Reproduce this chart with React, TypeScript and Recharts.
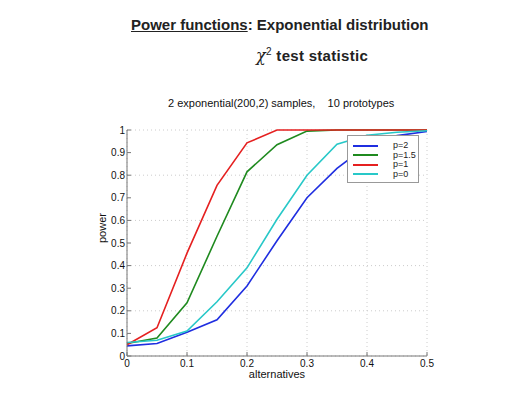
import React from "react";
import { LineChart, Line, XAxis, YAxis, CartesianGrid } from "recharts";

const alternatives = [0, 0.05, 0.1, 0.15, 0.2, 0.25, 0.3, 0.35, 0.4, 0.45, 0.5];
const p2 = [0.045, 0.055, 0.105, 0.16, 0.31, 0.51, 0.70, 0.83, 0.93, 0.975, 0.993];
const p15 = [0.055, 0.08, 0.235, 0.53, 0.815, 0.935, 0.995, 1.0, 1.0, 1.0, 1.0];
const p1 = [0.05, 0.125, 0.455, 0.755, 0.943, 1.0, 1.0, 1.0, 1.0, 1.0, 1.0];
const p0 = [0.06, 0.07, 0.11, 0.24, 0.39, 0.605, 0.80, 0.937, 0.977, 0.99, 0.997];
const xTicks = [0, 0.1, 0.2, 0.3, 0.4, 0.5];
const yTicks = [0, 0.1, 0.2, 0.3, 0.4, 0.5, 0.6, 0.7, 0.8, 0.9, 1];

const series = [
  { key: "p2", name: "p=2", color: "#1f2ee0" },
  { key: "p15", name: "p=1.5", color: "#1f8a1f" },
  { key: "p1", name: "p=1", color: "#e52020" },
  { key: "p0", name: "p=0", color: "#28c8c8" },
];

const data = alternatives.map((a, i) => ({ a, p2: p2[i], p15: p15[i], p1: p1[i], p0: p0[i] }));

const font = "'Liberation Sans', Arial, sans-serif";
const blank = () => "";

export default function App() {
  return (
    <div style={{ position: "absolute", left: 0, top: 0, width: 517, height: 400, background: "#fff" }}>
      <div
        style={{
          position: "absolute",
          left: 131,
          top: 16,
          fontFamily: font,
          fontSize: 15,
          fontWeight: 600,
          color: "#222",
          whiteSpace: "nowrap",
        }}
      >
        <span style={{ textDecoration: "underline" }}>Power functions</span>: Exponential distribution
      </div>
      <div
        style={{
          position: "absolute",
          left: 256,
          top: 46,
          fontFamily: font,
          fontSize: 15,
          fontWeight: 600,
          color: "#222",
          whiteSpace: "nowrap",
          letterSpacing: 0.3,
        }}
      >
        <span style={{ fontFamily: "'DejaVu Serif', serif", fontStyle: "italic", fontWeight: 400, fontSize: 16 }}>χ</span>
        <sup style={{ fontWeight: 400, fontSize: 10 }}>2</sup> test statistic
      </div>
      <div
        style={{
          position: "absolute",
          left: 168,
          top: 97,
          fontFamily: font,
          fontSize: 11,
          color: "#111",
          whiteSpace: "pre",
        }}
      >
        {"2 exponential(200,2) samples,    10 prototypes"}
      </div>
      <LineChart
        width={517}
        height={400}
        data={data}
        margin={{ top: 130, right: 90, left: 96, bottom: 22 }}
        style={{ fontFamily: font, position: "absolute", left: 0, top: 0 }}
      >
        <CartesianGrid stroke="#ccc" strokeDasharray="1 3" />
        <XAxis
          dataKey="a"
          type="number"
          domain={[0, 0.5]}
          ticks={xTicks}
          tick={{ fontSize: 10, fill: "#111" }}
          tickSize={-4}
          tickMargin={8}
          stroke="#777"
          height={22}
          label={{ value: "alternatives", position: "insideBottom", offset: 0, fontSize: 11, fill: "#111" }}
        />
        <XAxis xAxisId="top" orientation="top" dataKey="a" type="number" domain={[0, 0.5]} ticks={xTicks} tickFormatter={blank} tickSize={-4} stroke="#777" height={0} />
        <YAxis
          type="number"
          domain={[0, 1]}
          ticks={yTicks}
          tick={{ fontSize: 10, fill: "#111" }}
          tickSize={-4}
          tickMargin={6}
          stroke="#777"
          width={31}
          label={{ value: "power", angle: -90, position: "insideLeft", offset: 6, fontSize: 11, fill: "#111" }}
        />
        <YAxis yAxisId="right" orientation="right" type="number" domain={[0, 1]} ticks={yTicks} tickFormatter={blank} tickSize={-4} stroke="#777" width={0} />
        {series.map((s) => (
          <Line key={s.key} dataKey={s.key} name={s.name} stroke={s.color} strokeWidth={1.6} dot={false} isAnimationActive={false} />
        ))}
      </LineChart>
      <div
        style={{
          position: "absolute",
          left: 347,
          top: 135,
          width: 72,
          height: 48,
          border: "1px solid #999",
          background: "#fff",
          fontFamily: font,
          fontSize: 9,
          boxSizing: "border-box",
          padding: "5px 0 0 5px",
        }}
      >
        {series.map((s) => (
          <div key={s.key} style={{ display: "flex", alignItems: "center", height: 9.5 }}>
            <div style={{ width: 25, height: 2, background: s.color }} />
            <div style={{ marginLeft: 15, lineHeight: "9px", color: "#222" }}>{s.name}</div>
          </div>
        ))}
      </div>
    </div>
  );
}
